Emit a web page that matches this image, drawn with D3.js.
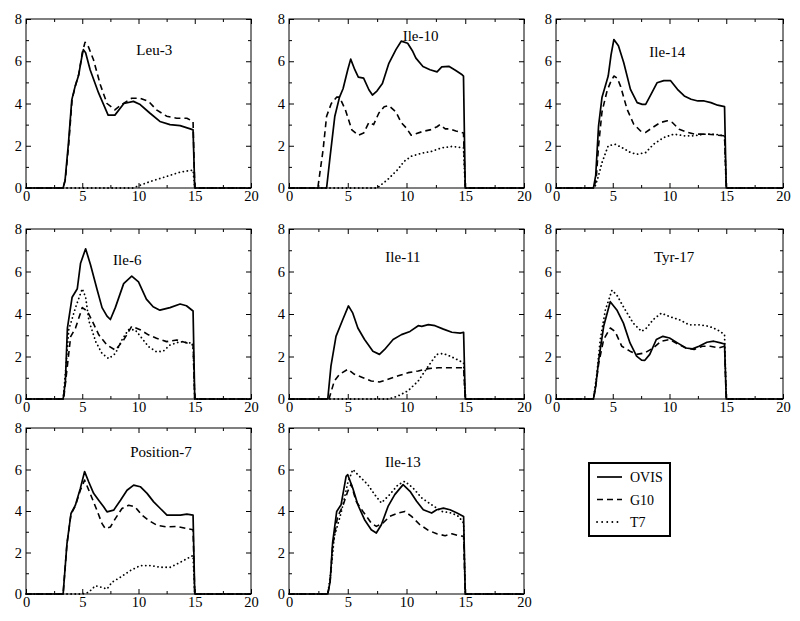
<!DOCTYPE html>
<html><head><meta charset="utf-8">
<script src="https://cdn.jsdelivr.net/npm/d3@7"></script>
<style>body{margin:0;background:#fff}svg{display:block}text{font-family:"Liberation Serif","Times New Roman",serif;fill:#000}</style>
</head><body><svg id="c" width="800" height="621"></svg>
<script>
// ---- data ----
const panelNames = ["Leu-3","Ile-10","Ile-14","Ile-6","Ile-11","Tyr-17","Position-7","Ile-13"];
const seriesNames = ["OVIS","G10","T7"];
const xTicks = [0,5,10,15,20];
const yTicks = [0,2,4,6,8];

const leu3_OVIS = [[0,0],[3.3,0],[3.47,0.36],[3.77,2.1],[4.07,4.17],[4.36,4.8],[4.66,5.3],[4.96,6.2],[5.1,6.55],[5.3,6.4],[5.7,5.6],[6.45,4.5],[7.3,3.45],[7.9,3.45],[8.7,4.0],[9.55,4.1],[10.15,3.95],[11.0,3.55],[11.9,3.15],[12.8,3.0],[13.7,2.95],[14.6,2.8],[14.85,2.75],[15,0],[20,0]];
const leu3_G10 = [[0,0],[3.3,0],[3.5,0.4],[3.8,2.1],[4.1,4.2],[4.4,4.85],[4.7,5.4],[5.0,6.4],[5.25,6.9],[5.5,6.75],[6.0,6.07],[6.6,4.9],[7.2,4.0],[7.9,3.7],[8.5,3.95],[9.4,4.25],[10.15,4.25],[10.9,4.1],[11.6,3.7],[12.5,3.4],[13.4,3.3],[14.3,3.3],[14.85,3.15],[15,0],[20,0]];
const leu3_T7 = [[0,0],[9.5,0],[10.15,0.13],[11.0,0.3],[11.9,0.45],[12.8,0.6],[13.7,0.75],[14.85,0.85],[15,0],[20,0]];

const ile10_OVIS = [[0,0],[3.2,0],[3.5,1.5],[3.9,3.4],[4.3,4.3],[4.6,4.7],[5.0,5.6],[5.25,6.1],[5.6,5.6],[5.9,5.25],[6.35,5.2],[6.8,4.65],[7.1,4.4],[7.5,4.6],[7.95,4.95],[8.5,5.9],[9.1,6.55],[9.55,6.95],[10.1,6.85],[10.5,6.5],[10.8,6.15],[11.4,5.75],[12.0,5.6],[12.6,5.5],[13.0,5.73],[13.6,5.76],[14.16,5.57],[14.74,5.36],[14.85,5.3],[15,0],[20,0]];
const ile10_G10 = [[0,0],[2.45,0],[2.6,0.6],[2.9,1.8],[3.2,3.4],[3.6,4.0],[4.05,4.3],[4.3,4.3],[4.8,3.7],[5.35,2.75],[5.9,2.5],[6.35,2.6],[6.8,3.1],[7.2,3.0],[7.65,3.55],[8.1,3.85],[8.5,3.9],[9.1,3.6],[9.55,3.1],[9.97,2.85],[10.4,2.5],[10.8,2.57],[11.4,2.68],[12.0,2.75],[12.6,2.9],[12.85,3.0],[13.3,2.8],[13.7,2.8],[14.2,2.7],[14.85,2.6],[15,0],[20,0]];
const ile10_T7 = [[0,0],[7.5,0],[8.4,0.4],[9.25,0.87],[9.8,1.26],[10.4,1.5],[11.3,1.65],[12.1,1.73],[13.0,1.9],[13.9,1.97],[14.85,1.9],[15,0],[20,0]];

const ile14_OVIS = [[0,0],[3.3,0],[3.5,0.6],[3.75,2.94],[4.05,4.28],[4.6,5.3],[4.85,6.3],[5.1,7.03],[5.5,6.73],[5.97,5.93],[6.56,4.67],[7.15,4.04],[7.6,3.96],[7.9,3.96],[8.3,4.36],[8.9,4.98],[9.5,5.08],[10.1,5.08],[10.7,4.67],[11.3,4.36],[11.9,4.2],[12.5,4.12],[13.06,4.12],[13.65,4.04],[14.24,3.92],[14.85,3.85],[15,0],[20,0]];
const ile14_G10 = [[0,0],[3.35,0],[3.55,0.5],[3.75,2.0],[4.05,3.6],[4.5,4.6],[4.8,5.0],[5.1,5.3],[5.4,5.2],[5.7,4.8],[6.26,3.73],[6.85,3.02],[7.45,2.7],[7.9,2.63],[8.5,2.86],[9.2,3.1],[9.8,3.18],[10.25,3.1],[10.85,2.78],[11.6,2.63],[12.2,2.55],[12.8,2.55],[13.35,2.55],[14.24,2.5],[14.85,2.47],[15,0],[20,0]];
const ile14_T7 = [[0,0],[3.4,0],[3.7,0.5],[4.05,1.2],[4.6,2.0],[5.2,2.07],[5.8,1.92],[6.56,1.68],[7.15,1.6],[7.9,1.68],[8.6,2.07],[9.5,2.39],[10.4,2.55],[11.3,2.47],[12.2,2.47],[13.06,2.55],[13.95,2.55],[14.85,2.47],[15,0],[20,0]];

const ile6_OVIS = [[0,0],[3.3,0],[3.5,0.8],[3.68,3.34],[4.1,4.79],[4.56,5.19],[4.85,6.39],[5.3,7.07],[5.74,6.31],[6.3,5.19],[6.76,4.3],[7.2,3.9],[7.5,3.74],[7.94,4.3],[8.68,5.43],[9.4,5.78],[10.0,5.51],[10.7,4.7],[11.3,4.34],[11.9,4.18],[12.8,4.3],[13.7,4.47],[14.26,4.39],[14.85,4.14],[15,0],[20,0]];
const ile6_G10 = [[0,0],[3.35,0],[3.6,1.2],[3.97,2.94],[4.4,3.34],[5.0,4.3],[5.44,4.14],[5.9,3.66],[6.47,3.02],[7.2,2.54],[7.94,2.3],[8.68,2.78],[9.4,3.42],[10.15,3.26],[10.88,3.02],[11.6,2.86],[12.5,2.7],[13.4,2.78],[14.1,2.67],[14.85,2.54],[15,0],[20,0]];
const ile6_T7 = [[0,0],[3.3,0],[3.55,1.5],[3.8,3.26],[4.4,4.3],[5.0,5.19],[5.3,4.79],[5.6,3.66],[6.2,2.7],[6.76,2.14],[7.35,1.9],[7.94,2.14],[8.53,2.78],[9.1,3.26],[9.7,3.26],[10.3,2.86],[10.9,2.46],[11.6,2.22],[12.2,2.25],[12.8,2.54],[13.7,2.7],[14.85,2.62],[15,0],[20,0]];

const ile11_OVIS = [[0,0],[3.3,0],[3.57,1.55],[4.0,2.95],[4.57,3.73],[5.06,4.38],[5.43,4.04],[5.86,3.34],[6.43,2.8],[7.14,2.25],[7.7,2.1],[8.14,2.33],[8.86,2.8],[9.57,3.03],[10.3,3.18],[11.0,3.45],[11.3,3.42],[11.86,3.5],[12.43,3.45],[13.14,3.29],[13.86,3.14],[14.57,3.1],[14.86,3.14],[15,0],[20,0]];
const ile11_G10 = [[0,0],[3.4,0],[3.86,0.85],[4.3,1.16],[5.0,1.4],[5.57,1.16],[6.3,1.0],[7.0,0.85],[7.7,0.8],[8.43,0.93],[9.3,1.09],[10.14,1.24],[11.0,1.32],[11.86,1.43],[12.7,1.47],[13.57,1.47],[14.86,1.47],[15,0],[20,0]];
const ile11_T7 = [[0,0],[8.5,0],[9.3,0.15],[10.14,0.39],[11.0,0.85],[11.86,1.55],[12.57,2.1],[13.14,2.14],[13.7,2.02],[14.3,1.86],[14.86,1.7],[15,0],[20,0]];

const tyr17_OVIS = [[0,0],[3.3,0],[3.5,0.6],[3.77,1.86],[4.2,3.42],[4.78,4.58],[5.36,4.19],[5.94,3.57],[6.52,2.64],[7.1,2.02],[7.54,1.83],[7.83,1.82],[8.26,2.1],[8.84,2.8],[9.42,2.95],[10.0,2.87],[10.7,2.64],[11.45,2.4],[12.03,2.36],[12.6,2.48],[13.3,2.67],[13.9,2.72],[14.5,2.64],[14.85,2.59],[15,0],[20,0]];
const tyr17_G10 = [[0,0],[3.3,0],[3.5,0.6],[3.77,1.7],[4.2,2.8],[4.78,3.34],[5.2,3.18],[5.8,2.48],[6.52,2.25],[7.1,2.1],[7.83,2.17],[8.55,2.4],[9.28,2.72],[10.0,2.8],[10.7,2.6],[11.45,2.4],[12.17,2.33],[12.9,2.48],[13.6,2.48],[14.35,2.4],[14.85,2.48],[15,0],[20,0]];
const tyr17_T7 = [[0,0],[3.3,0],[3.6,1.2],[3.9,2.8],[4.35,4.19],[4.93,5.12],[5.36,4.89],[6.1,4.19],[6.8,3.57],[7.54,3.18],[7.97,3.34],[8.55,3.73],[9.28,4.04],[10.0,3.88],[10.87,3.73],[11.74,3.49],[12.6,3.49],[13.5,3.42],[14.2,3.26],[14.85,3.03],[15,0],[20,0]];

const pos7_OVIS = [[0,0],[3.3,0],[3.64,2.42],[4.0,3.88],[4.39,4.28],[4.83,5.09],[5.21,5.9],[5.57,5.41],[6.01,4.85],[6.46,4.52],[6.9,4.2],[7.2,3.96],[7.79,4.04],[8.4,4.52],[8.98,5.0],[9.57,5.25],[10.16,5.17],[10.76,4.85],[11.35,4.44],[11.94,4.12],[12.53,3.8],[13.13,3.8],[13.72,3.8],[14.3,3.85],[14.85,3.8],[15,0],[20,0]];
const pos7_G10 = [[0,0],[3.3,0],[3.64,2.4],[4.0,3.85],[4.39,4.25],[4.83,5.0],[5.21,5.49],[5.7,4.85],[6.3,4.04],[6.76,3.39],[7.05,3.15],[7.5,3.23],[7.94,3.63],[8.53,4.12],[9.13,4.28],[9.7,4.2],[10.3,3.8],[10.9,3.55],[11.65,3.31],[12.53,3.23],[13.42,3.26],[14.3,3.15],[14.85,3.1],[15,0],[20,0]];
const pos7_T7 = [[0,0],[5.0,0],[5.57,0.08],[6.16,0.4],[6.76,0.32],[7.2,0.24],[7.65,0.57],[8.4,0.81],[9.27,1.13],[10.16,1.37],[11.05,1.37],[11.94,1.29],[12.83,1.29],[13.72,1.53],[14.85,1.86],[15,0],[20,0]];

const ile13_OVIS = [[0,0],[3.3,0],[3.5,0.6],[3.71,2.46],[4.06,3.98],[4.43,4.3],[4.86,5.67],[5.0,5.75],[5.43,5.1],[5.86,4.3],[6.43,3.58],[7.0,3.1],[7.43,2.94],[7.86,3.34],[8.43,4.22],[9.0,4.79],[9.71,5.27],[10.3,4.95],[10.86,4.47],[11.43,4.06],[12.14,3.9],[12.57,4.06],[13.14,4.14],[13.7,4.06],[14.3,3.9],[14.86,3.74],[15,0],[20,0]];
const ile13_G10 = [[0,0],[3.3,0],[3.5,0.6],[3.71,2.3],[4.14,3.74],[4.57,4.22],[5.0,4.95],[5.29,5.3],[5.71,4.47],[6.29,3.98],[7.0,3.42],[7.43,3.26],[8.0,3.42],[8.57,3.74],[9.29,3.9],[9.86,3.98],[10.43,3.74],[11.14,3.34],[11.86,3.07],[12.57,2.9],[13.29,2.81],[13.86,2.9],[14.43,2.81],[14.86,2.78],[15,0],[20,0]];
const ile13_T7 = [[0,0],[3.3,0],[3.55,1.0],[3.86,2.78],[4.43,3.9],[5.0,5.35],[5.43,6.0],[6.0,5.67],[6.71,5.27],[7.29,4.79],[7.86,4.39],[8.57,4.79],[9.29,5.27],[9.86,5.43],[10.57,5.1],[11.29,4.63],[12.14,4.3],[13.0,3.98],[13.86,3.9],[14.43,3.74],[14.86,3.42],[15,0],[20,0]];

const panelSeries = [
  [leu3_OVIS, leu3_G10, leu3_T7],
  [ile10_OVIS, ile10_G10, ile10_T7],
  [ile14_OVIS, ile14_G10, ile14_T7],
  [ile6_OVIS, ile6_G10, ile6_T7],
  [ile11_OVIS, ile11_G10, ile11_T7],
  [tyr17_OVIS, tyr17_G10, tyr17_T7],
  [pos7_OVIS, pos7_G10, pos7_T7],
  [ile13_OVIS, ile13_G10, ile13_T7]
];

// ---- layout & style ----
const FONT = '"Liberation Serif","Times New Roman",serif';
const colL = [26, 289, 556], colR = [251, 524, 783];
const rowT = [19, 229, 428], rowB = [188, 399, 594];
const titlePos = [[0.57,36],[0.56,22],[0.49,38],[0.45,36],[0.485,33],[0.52,33],[0.60,29],[0.485,39]];
const dashes = [null, "6,4", "0.1,4"];
const caps = ["butt", "butt", "round"];
const widths = [1.7, 1.6, 1.8];

const svg = d3.select("#c");

panelNames.forEach((name, i) => {
  const c = i % 3, r = Math.floor(i / 3);
  const x = d3.scaleLinear().domain([0, 20]).range([colL[c], colR[c]]);
  const y = d3.scaleLinear().domain([0, 8]).range([rowB[r], rowT[r]]);
  const g = svg.append("g");

  const minorX = [2.5, 7.5, 12.5, 17.5];
  const minorY = [1, 3, 5, 7];

  function styleAxis(sel) {
    sel.attr("font-family", FONT).attr("font-size", 14.5);
    sel.select(".domain").remove();
    sel.selectAll("line").attr("stroke", "#000").attr("stroke-width", 1);
    sel.selectAll("text").attr("fill", "#000");
  }
  const axes = [
    [d3.axisBottom, rowB[r], true, x, xTicks, minorX, "v", 3],
    [d3.axisTop, rowT[r], false, x, xTicks, minorX, "v", 3],
    [d3.axisLeft, colL[c], true, y, yTicks, minorY, "h", 4],
    [d3.axisRight, colR[c], false, y, yTicks, minorY, "h", 4]
  ];
  axes.forEach(([fn, pos, labels, sc, major, minor, o, pad]) => {
    const tr = o === "v" ? `translate(0,${pos})` : `translate(${pos},0)`;
    g.append("g").attr("transform", tr)
      .call(fn(sc).tickValues(major).tickSizeInner(-5).tickSizeOuter(0).tickPadding(pad)
        .tickFormat(labels ? d3.format("d") : ""))
      .call(styleAxis);
    g.append("g").attr("transform", tr)
      .call(fn(sc).tickValues(minor).tickSizeInner(-3).tickSizeOuter(0).tickFormat(""))
      .call(styleAxis);
  });

  // frame
  g.append("rect").attr("x", colL[c]).attr("y", rowT[r])
    .attr("width", colR[c] - colL[c]).attr("height", rowB[r] - rowT[r])
    .attr("fill", "none").attr("stroke", "#000").attr("stroke-width", 1);

  const line = d3.line().x(d => x(d[0])).y(d => y(d[1]));
  [2, 1, 0].forEach(s => {
    g.append("path").datum(panelSeries[i][s])
      .attr("d", line).attr("fill", "none").attr("stroke", "#000")
      .attr("stroke-width", widths[s])
      .attr("stroke-linecap", caps[s])
      .attr("stroke-linejoin", "round")
      .attr("stroke-dasharray", dashes[s]);
  });

  g.append("text")
    .attr("x", colL[c] + titlePos[i][0] * (colR[c] - colL[c]))
    .attr("y", rowT[r] + titlePos[i][1])
    .attr("text-anchor", "middle").attr("font-family", FONT).attr("font-size", 15).text(name);
});

// legend
const lg = svg.append("g");
lg.append("rect").attr("x", 589).attr("y", 463).attr("width", 81).attr("height", 73)
  .attr("fill", "#fff").attr("stroke", "#000").attr("stroke-width", 2);
seriesNames.forEach((n, k) => {
  const yy = 477 + k * 22.5;
  lg.append("line").attr("x1", 597).attr("x2", 622).attr("y1", yy).attr("y2", yy)
    .attr("stroke", "#000").attr("stroke-width", widths[k])
    .attr("stroke-linecap", caps[k])
    .attr("stroke-dasharray", k === 2 ? "0.1,5" : dashes[k]);
  lg.append("text").attr("x", 630).attr("y", yy + 5)
    .attr("font-family", FONT).attr("font-size", 14).text(n);
});
</script></body></html>
